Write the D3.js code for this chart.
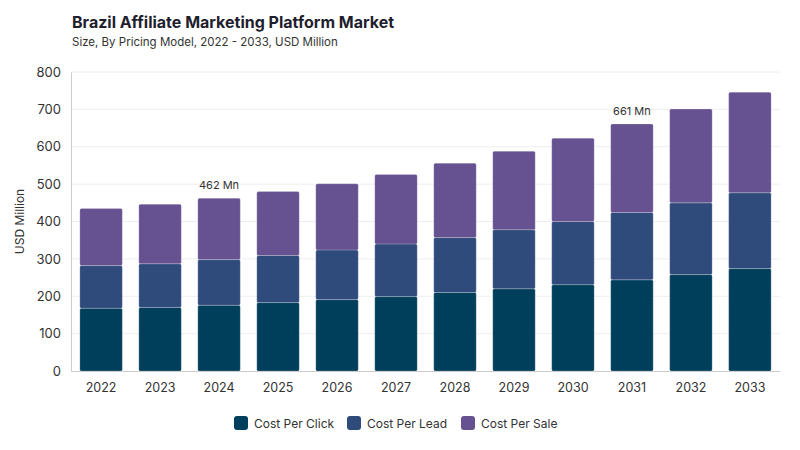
<!DOCTYPE html>
<html>
<head>
<meta charset="utf-8">
<script src="https://cdn.jsdelivr.net/npm/d3@7"></script>
<style>
body { margin: 0; background: #fff; }
text { font-family: Inter, "Noto Sans", sans-serif; }
</style>
</head>
<body>
<svg id="chart" width="800" height="450"></svg>
<script>
var years = ['2022','2023','2024','2025','2026','2027','2028','2029','2030','2031','2032','2033'];
var costPerClick = [168, 170, 176, 183, 191, 199, 210, 220, 231, 244, 258, 274];
var costPerLead = [114, 117, 122, 126, 133, 141, 147, 158, 169, 180, 192, 203];
var costPerSale = [153, 159, 164, 171, 177, 186, 199, 210, 223, 237, 251, 269];
var seriesNames = ['Cost Per Click', 'Cost Per Lead', 'Cost Per Sale'];
var colors = ['#003f5c', '#2f4b7c', '#665191'];
var yTicks = [0, 100, 200, 300, 400, 500, 600, 700, 800];
var notes = [{year: '2024', text: '462 Mn'}, {year: '2031', text: '661 Mn'}];

var svg = d3.select('#chart');
var plotLeft = 71, plotRight = 780, plotTop = 72, plotBottom = 371;

var rows = years.map(function (y, i) {
  return {year: y, 'Cost Per Click': costPerClick[i], 'Cost Per Lead': costPerLead[i], 'Cost Per Sale': costPerSale[i]};
});
var stack = d3.stack().keys(seriesNames)(rows);

var x = d3.scaleBand().domain(years).range([plotLeft, plotRight]).paddingInner(0.28).paddingOuter(0.15);
var y = d3.scaleLinear().domain([0, 800]).range([plotBottom, plotTop]);
var color = d3.scaleOrdinal().domain(seriesNames).range(colors);

// title
svg.append('text').attr('x', 72).attr('y', 28).attr('font-size', '16px').attr('font-weight', 700)
  .attr('fill', '#1e1e2e').text('Brazil Affiliate Marketing Platform Market');
svg.append('text').attr('x', 72).attr('y', 46).attr('font-size', '11.5px')
  .attr('fill', '#333').text('Size, By Pricing Model, 2022 - 2033, USD Million');

// grid
svg.append('g').selectAll('line').data(yTicks.slice(1)).enter().append('line')
  .attr('x1', plotLeft).attr('x2', plotRight)
  .attr('y1', function (d) { return y(d); }).attr('y2', function (d) { return y(d); })
  .attr('stroke', '#eeeeee');

// y axis
var yAxis = svg.append('g').attr('transform', 'translate(' + plotLeft + ',0)')
  .call(d3.axisLeft(y).tickValues(yTicks).tickSize(0).tickPadding(10));
yAxis.select('.domain').attr('stroke', '#cccccc');
yAxis.selectAll('text').attr('font-size', '13px').attr('fill', '#333');

svg.append('text').attr('transform', 'translate(24,' + (plotTop + plotBottom) / 2 + ') rotate(-90)')
  .attr('text-anchor', 'middle').attr('font-size', '12px').attr('fill', '#333').text('USD Million');

// bars
svg.append('g').selectAll('g').data(stack).enter().append('g')
  .attr('fill', function (d) { return color(d.key); })
  .selectAll('rect').data(function (d) { return d; }).enter().append('rect')
  .attr('x', function (d) { return x(d.data.year); })
  .attr('y', function (d) { return y(d[1]); })
  .attr('width', x.bandwidth())
  .attr('height', function (d) { return y(d[0]) - y(d[1]); })
  .attr('rx', 1.5)
  .attr('stroke', '#ffffff').attr('stroke-opacity', 0.35).attr('stroke-width', 0.6);

// x axis
var xAxis = svg.append('g').attr('transform', 'translate(0,' + plotBottom + ')')
  .call(d3.axisBottom(x).tickSize(0).tickPadding(12));
xAxis.select('.domain').attr('stroke', '#cccccc');
xAxis.selectAll('text').attr('font-size', '12.5px').attr('fill', '#333');

// annotations
svg.append('g').selectAll('text').data(notes).enter().append('text')
  .attr('x', function (d) { return x(d.year) + x.bandwidth() / 2; })
  .attr('y', function (d) { var i = years.indexOf(d.year); return y(costPerClick[i] + costPerLead[i] + costPerSale[i]) - 9; })
  .attr('text-anchor', 'middle').attr('font-size', '11px').attr('fill', '#333')
  .text(function (d) { return d.text; });

// legend
var legendX = [234, 347, 461];
var leg = svg.append('g').selectAll('g').data(seriesNames).enter().append('g')
  .attr('transform', function (d, i) { return 'translate(' + legendX[i] + ',416)'; });
leg.append('rect').attr('width', 14).attr('height', 14).attr('rx', 3)
  .attr('fill', function (d) { return color(d); });
leg.append('text').attr('x', 20).attr('y', 12).attr('font-size', '12px').attr('fill', '#333')
  .text(function (d) { return d; });
</script>
</body>
</html>
